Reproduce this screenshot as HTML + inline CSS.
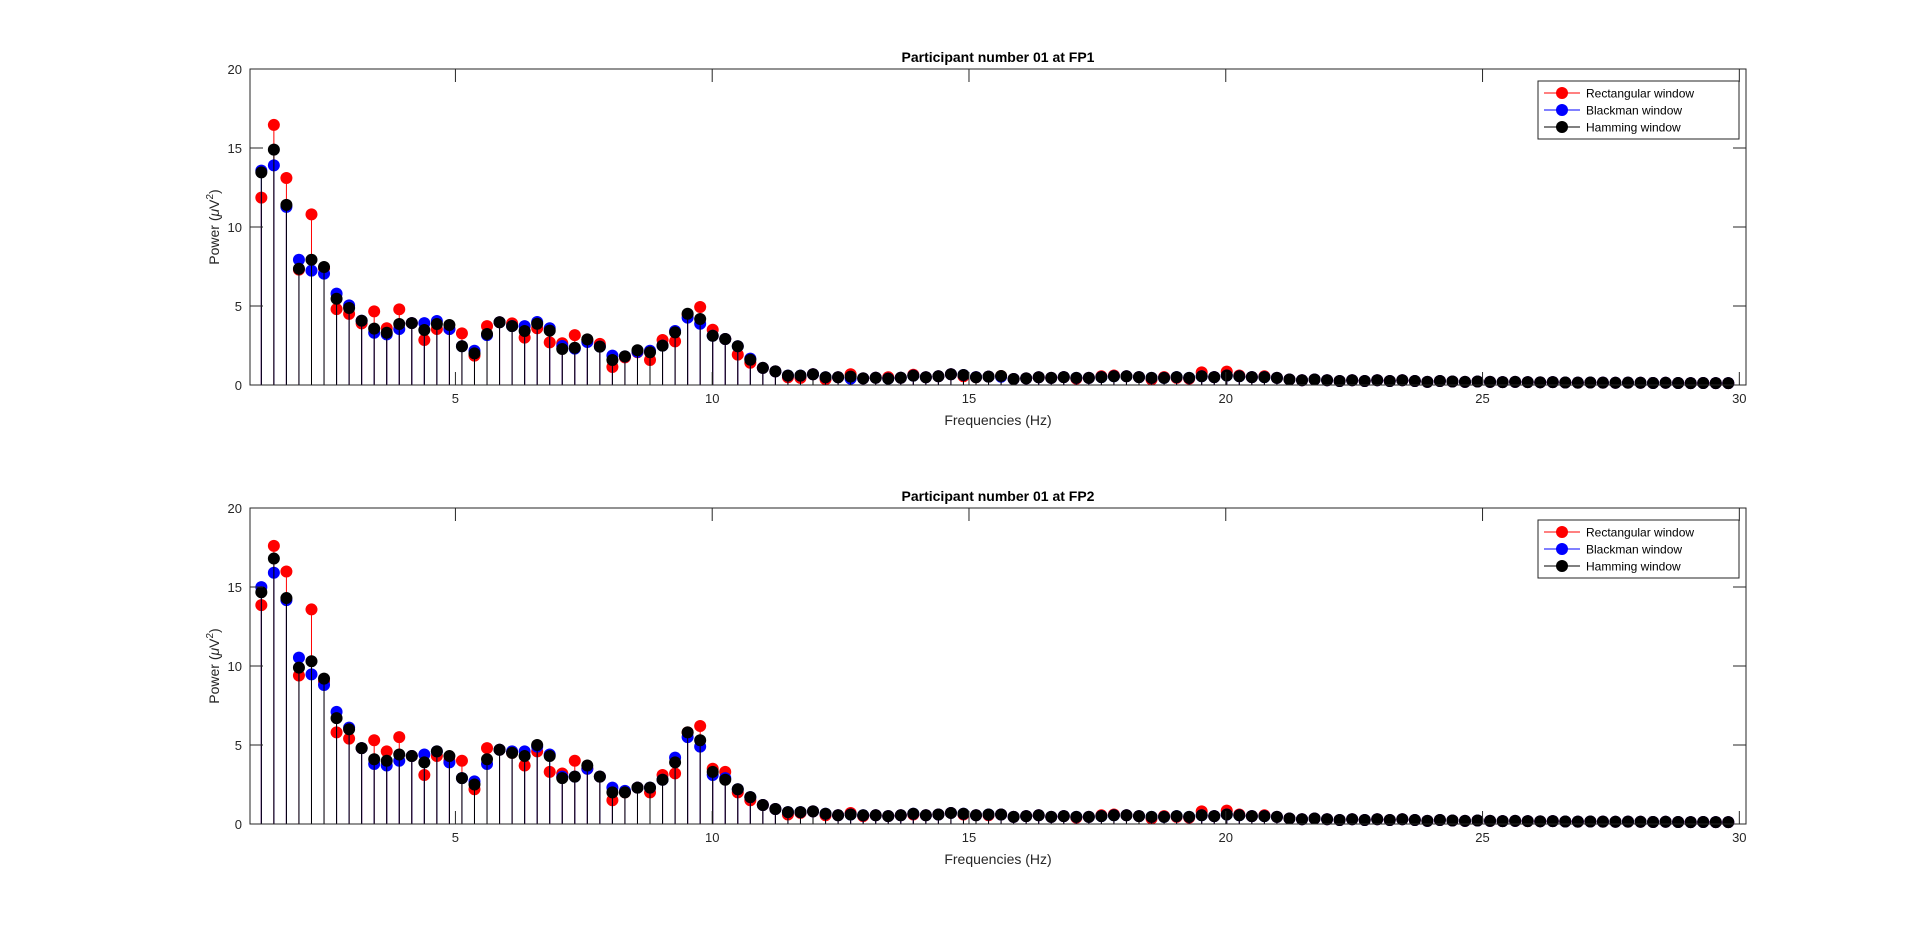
<!DOCTYPE html>
<html><head><meta charset="utf-8"><title>Power spectra</title>
<style>
html,body{margin:0;padding:0;background:#fff;}
svg{display:block;font-family:"Liberation Sans",Arial,sans-serif;}
</style></head>
<body>
<svg id="fig" width="1920" height="926" viewBox="0 0 1920 926"></svg>
<script>
const freqStep = 0.24414;
const firstBin = 5;
const binCount = 118;
const xTicks = [5, 10, 15, 20, 25, 30];
const yTicks = [0, 5, 10, 15, 20];
const tailR = [0.45,0.5,0.4,0.45,0.55,0.6,0.55,0.5,0.35,0.5,0.45,0.4,0.8,0.5,0.85,0.6,0.5,0.55,0.45,0.35,0.3,0.35,0.3,0.25,0.3,0.25,0.3,0.25,0.3,0.25,0.2,0.25,0.22,0.2,0.22,0.2,0.18,0.2,0.18,0.17,0.18,0.16,0.15,0.16,0.15,0.14,0.15,0.14,0.13,0.14,0.13,0.12,0.13,0.12,0.12];
const tailH = [0.45,0.5,0.45,0.45,0.5,0.55,0.55,0.5,0.45,0.45,0.5,0.45,0.55,0.5,0.6,0.55,0.5,0.5,0.45,0.35,0.3,0.35,0.3,0.25,0.3,0.25,0.3,0.25,0.3,0.25,0.2,0.25,0.22,0.2,0.22,0.2,0.18,0.2,0.18,0.17,0.18,0.16,0.15,0.16,0.15,0.14,0.15,0.14,0.13,0.14,0.13,0.12,0.13,0.12,0.12];
const fp1Rect = [11.86,16.46,13.1,7.3,10.8,7.4,4.8,4.5,3.9,4.66,3.59,4.79,3.92,2.85,3.54,3.54,3.27,1.86,3.73,3.97,3.9,3.0,3.59,2.7,2.64,3.16,2.85,2.6,1.14,1.75,2.07,1.58,2.85,2.76,4.45,4.94,3.5,2.91,1.92,1.41,1.08,0.86,0.49,0.45,0.68,0.36,0.49,0.68,0.42,0.46,0.49,0.46,0.65,0.49,0.55,0.68,0.55,0.49,0.53,0.57,0.38,0.42,0.49].concat(tailR);
const fp1Black = [13.57,13.9,11.27,7.93,7.24,7.05,5.78,5.04,4.07,3.31,3.2,3.54,3.92,3.92,4.05,3.54,2.45,2.17,3.16,3.97,3.73,3.73,3.99,3.59,2.47,2.3,2.72,2.43,1.86,1.81,2.1,2.17,2.49,3.42,4.26,3.88,3.12,2.91,2.45,1.67,1.08,0.86,0.59,0.59,0.68,0.49,0.49,0.4,0.42,0.46,0.4,0.46,0.59,0.49,0.55,0.68,0.63,0.5,0.53,0.52,0.38,0.42,0.49].concat(tailH);
const fp1Hamm = [13.46,14.9,11.4,7.36,7.93,7.47,5.46,4.87,4.07,3.57,3.31,3.86,3.92,3.48,3.86,3.8,2.45,2.0,3.23,3.97,3.73,3.42,3.88,3.44,2.28,2.36,2.89,2.43,1.58,1.81,2.2,2.07,2.49,3.33,4.51,4.18,3.12,2.91,2.45,1.6,1.08,0.86,0.59,0.59,0.68,0.49,0.49,0.53,0.42,0.46,0.4,0.46,0.59,0.49,0.55,0.68,0.63,0.49,0.53,0.57,0.38,0.42,0.49].concat(tailH);
const fp2Rect = [13.85,17.6,15.98,9.4,13.58,9.0,5.8,5.4,4.8,5.3,4.6,5.5,4.3,3.1,4.3,4.0,4.0,2.2,4.8,4.7,4.5,3.7,4.6,3.3,3.2,4.0,3.5,3.0,1.5,2.0,2.3,2.0,3.1,3.2,5.8,6.2,3.5,3.3,2.0,1.5,1.2,0.95,0.6,0.7,0.8,0.55,0.55,0.7,0.5,0.55,0.5,0.55,0.6,0.55,0.6,0.7,0.6,0.55,0.55,0.6,0.45,0.5,0.55].concat(tailR);
const fp2Black = [14.99,15.9,14.17,10.53,9.47,8.8,7.1,6.1,4.8,3.8,3.7,4.0,4.3,4.4,4.6,3.9,2.9,2.7,3.8,4.7,4.6,4.6,4.9,4.4,3.0,3.0,3.5,3.0,2.3,2.1,2.3,2.3,2.8,4.2,5.5,4.9,3.1,2.9,2.2,1.7,1.2,0.95,0.75,0.75,0.8,0.65,0.55,0.6,0.55,0.55,0.5,0.55,0.65,0.55,0.6,0.7,0.65,0.55,0.6,0.6,0.45,0.5,0.55].concat(tailH);
const fp2Hamm = [14.67,16.8,14.3,9.9,10.3,9.2,6.7,6.0,4.8,4.1,4.0,4.4,4.3,3.9,4.6,4.3,2.9,2.5,4.1,4.7,4.5,4.3,5.0,4.3,2.9,3.0,3.7,3.0,2.0,2.0,2.3,2.3,2.8,3.9,5.8,5.3,3.3,2.8,2.2,1.7,1.2,0.95,0.75,0.75,0.8,0.65,0.55,0.6,0.55,0.55,0.5,0.55,0.65,0.55,0.6,0.7,0.65,0.55,0.6,0.6,0.45,0.5,0.55].concat(tailH);
const legendLabels = ["Rectangular window","Blackman window","Hamming window"];
const titles = ["Participant number 01 at FP1","Participant number 01 at FP2"];

const freqs = [];
for (let k = 0; k < binCount; k++) freqs.push((firstBin + k) * freqStep);

const NS = "http://www.w3.org/2000/svg";
const svg = document.getElementById('fig');
function mk(tag, attrs, parent) {
  const e = document.createElementNS(NS, tag);
  for (const k in attrs) e.setAttribute(k, attrs[k]);
  (parent || svg).appendChild(e);
  return e;
}
const X0 = 250, X1 = 1746, XMIN = 1.0, XMAX = 30.13;
function xs(f) { return X0 + (f - XMIN) / (XMAX - XMIN) * (X1 - X0); }

function drawPanel(top, bottom, series, title, idx) {
  const g = mk('g', {});
  
  
  const ys = v => bottom - v / 20 * (bottom - top);
  // title
  const t = mk('text', {x: (X0 + X1) / 2, y: top - 7, 'text-anchor': 'middle', 'font-size': 14, 'font-weight': 'bold', fill: '#000'}, g);
  t.textContent = title;
  
  
  // series
  const colors = ['#ff0000', '#0000ff', '#000000'];
  series.forEach((vals, si) => {
    const sg = mk('g', {}, g);
    
    
    vals.forEach((v, i) => {
      const x = xs(freqs[i]);
      const ln = mk('line', {x1: x, x2: x, y1: ys(0), y2: ys(v), stroke: colors[si], 'stroke-width': 1}, sg);
      
      
    });
    vals.forEach((v, i) => {
      const c = mk('circle', {cx: xs(freqs[i]), cy: ys(v), r: 6, fill: colors[si]}, sg);
      
      
    });
  });
  // axes box
  const box = mk('rect', {x: X0, y: top, width: X1 - X0, height: bottom - top, fill: 'none', stroke: '#262626', 'stroke-width': 1}, g);
  
  
  xTicks.forEach(v => {
    const x = xs(v);
    mk('line', {x1: x, x2: x, y1: bottom, y2: bottom - 13, stroke: '#262626'}, g);
    mk('line', {x1: x, x2: x, y1: top, y2: top + 13, stroke: '#262626'}, g);
    const lt = mk('text', {x: x, y: bottom + 18, 'text-anchor': 'middle', 'font-size': 13, fill: '#262626'}, g);
    lt.textContent = v;
    
    
  });
  yTicks.forEach(v => {
    const y = ys(v);
    mk('line', {x1: X0, x2: X0 + 13, y1: y, y2: y, stroke: '#262626'}, g);
    mk('line', {x1: X1, x2: X1 - 13, y1: y, y2: y, stroke: '#262626'}, g);
    const lt = mk('text', {x: X0 - 8, y: y + 5, 'text-anchor': 'end', 'font-size': 13, fill: '#262626'}, g);
    lt.textContent = v;
    
    
  });
  const xl = mk('text', {x: (X0 + X1) / 2, y: bottom + 40, 'text-anchor': 'middle', 'font-size': 14, fill: '#262626'}, g);
  xl.textContent = 'Frequencies (Hz)';
  
  
  const yc = (top + bottom) / 2;
  const yl = mk('text', {x: 219, y: yc, 'text-anchor': 'middle', 'font-size': 14, fill: '#262626', transform: 'rotate(-90 219 ' + yc + ')'}, g);
  yl.innerHTML = 'Power (<tspan font-style="italic">μ</tspan>V<tspan dy="-6" font-size="10">2</tspan><tspan dy="6">)</tspan>';
  
  
  // legend
  const lg = mk('g', {}, g);
  
  
  const lx = 1538, ly = top + 12;
  mk('rect', {x: lx, y: ly, width: 201, height: 58, fill: '#fff', stroke: '#262626', 'stroke-width': 1}, lg);
  legendLabels.forEach((lab, i) => {
    const yy = ly + 12 + i * 17;
    const e = mk('g', {}, lg);
    
    
    mk('line', {x1: lx + 6, x2: lx + 42, y1: yy, y2: yy, stroke: colors[i]}, e);
    mk('circle', {cx: lx + 24, cy: yy, r: 6, fill: colors[i]}, e);
    const tt = mk('text', {x: lx + 48, y: yy + 4.5, 'font-size': 12, fill: '#000'}, e);
    tt.textContent = lab;
  });
}
drawPanel(69, 385, [fp1Rect, fp1Black, fp1Hamm], titles[0], 0);
drawPanel(508, 824, [fp2Rect, fp2Black, fp2Hamm], titles[1], 1);
</script>
</body></html>
